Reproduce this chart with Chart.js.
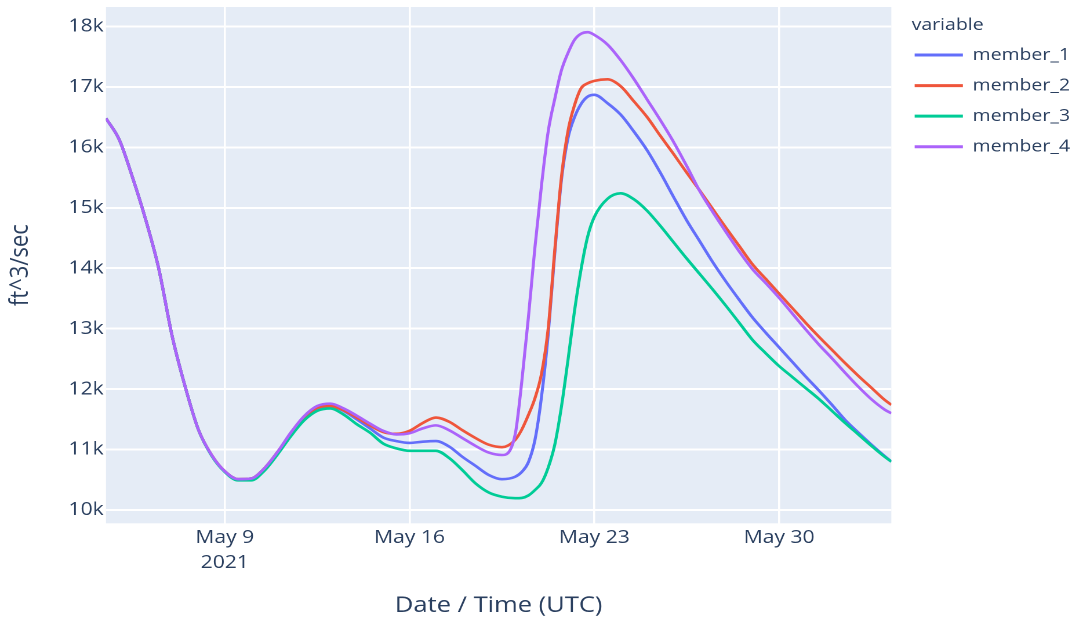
<!DOCTYPE html>
<html><head><meta charset="utf-8">
<script src="https://cdn.jsdelivr.net/npm/chart.js@4.4.1/dist/chart.umd.min.js"></script>
<style>
html,body{margin:0;padding:0;background:#fff;overflow:hidden;width:1083px;height:620px}
#wrap{position:absolute;left:0;top:0;width:934px;height:620px;transform:scaleX(1.15953);transform-origin:0 0}
</style></head><body>
<div id="wrap"><canvas id="c"></canvas></div>
<script>
// ---- data ----
const times = [
'2021-05-04T12:00Z','2021-05-05T00:00Z','2021-05-05T12:00Z','2021-05-06T00:00Z','2021-05-06T12:00Z','2021-05-07T00:00Z','2021-05-07T12:00Z','2021-05-08T00:00Z','2021-05-08T12:00Z','2021-05-09T00:00Z',
'2021-05-09T12:00Z','2021-05-10T00:00Z','2021-05-10T12:00Z','2021-05-11T00:00Z','2021-05-11T12:00Z','2021-05-12T00:00Z','2021-05-12T12:00Z','2021-05-13T00:00Z','2021-05-13T12:00Z','2021-05-14T00:00Z',
'2021-05-14T12:00Z','2021-05-15T00:00Z','2021-05-15T12:00Z','2021-05-16T00:00Z','2021-05-16T12:00Z','2021-05-17T00:00Z','2021-05-17T12:00Z','2021-05-18T00:00Z','2021-05-18T12:00Z','2021-05-19T00:00Z',
'2021-05-19T12:00Z','2021-05-20T00:00Z',
'2021-05-20T06:00Z','2021-05-20T12:00Z','2021-05-20T18:00Z','2021-05-21T00:00Z','2021-05-21T06:00Z','2021-05-21T12:00Z','2021-05-21T18:00Z','2021-05-22T00:00Z','2021-05-22T06:00Z','2021-05-22T12:00Z','2021-05-22T18:00Z','2021-05-23T00:00Z',
'2021-05-23T12:00Z','2021-05-24T00:00Z','2021-05-24T12:00Z','2021-05-25T00:00Z','2021-05-25T12:00Z','2021-05-26T00:00Z','2021-05-26T12:00Z','2021-05-27T00:00Z','2021-05-27T12:00Z','2021-05-28T00:00Z',
'2021-05-28T12:00Z','2021-05-29T00:00Z','2021-05-29T12:00Z','2021-05-30T00:00Z','2021-05-30T12:00Z','2021-05-31T00:00Z','2021-05-31T12:00Z','2021-06-01T00:00Z','2021-06-01T12:00Z','2021-06-02T00:00Z',
'2021-06-02T12:00Z','2021-06-03T00:00Z','2021-06-03T06:00Z'
];
const member_1 = [
16480,16130,15510,14810,13990,12890,12040,11330,10910,10640,
10510,10520,10690,10960,11260,11520,11680,11720,11640,11500,
11350,11200,11140,11110,11130,11140,11050,10880,10730,10580,
10510,10550,
10630,10790,11160,11880,12900,14250,15450,16150,16500,16720,16840,16870,
16730,16540,16260,15950,15580,15180,14790,14440,14090,13770,
13470,13180,12930,12690,12450,12210,11980,11740,11490,11280,
11080,10890,10800
];
const member_2 = [
16480,16130,15510,14810,13990,12890,12040,11330,10910,10640,
10510,10520,10690,10960,11265,11525,11690,11720,11650,11530,
11400,11290,11260,11310,11440,11530,11460,11320,11190,11080,
11040,11160,
11330,11570,11850,12260,13000,14300,15500,16270,16700,16980,17060,17100,
17125,17010,16760,16500,16190,15890,15580,15280,14970,14660,
14360,14060,13820,13580,13340,13100,12870,12650,12430,12220,
12020,11820,11740
];
const member_3 = [
16480,16130,15510,14810,13990,12890,12040,11330,10900,10630,
10490,10490,10650,10920,11220,11480,11640,11680,11580,11420,
11280,11100,11020,10980,10980,10980,10860,10660,10440,10290,
10220,10195,
10200,10240,10330,10450,10700,11080,11700,12480,13300,13990,14530,14850,
15150,15240,15140,14950,14700,14430,14160,13900,13640,13370,
13090,12810,12590,12380,12200,12020,11840,11640,11440,11250,
11060,10880,10800
];
const member_4 = [
16480,16130,15510,14810,13990,12890,12040,11330,10910,10640,
10510,10520,10690,10960,11280,11550,11720,11760,11680,11560,
11430,11310,11250,11270,11350,11400,11320,11190,11060,10950,
10910,11250,
12120,13180,14350,15380,16260,16800,17270,17560,17780,17880,17905,17860,
17700,17440,17130,16790,16450,16090,15690,15270,14920,14590,
14270,13980,13750,13510,13250,12990,12740,12510,12270,12040,
11830,11660,11600
];
const seriesNames = ['member_1','member_2','member_3','member_4'];
const seriesValues = [member_1, member_2, member_3, member_4];
const seriesColors = ['#636efa','#EF553B','#00cc96','#ab63fa'];
const xTickDates = ['2021-05-09T00:00Z','2021-05-16T00:00Z','2021-05-23T00:00Z','2021-05-30T00:00Z'];
const xTickLabels = [['May 9','2021'],'May 16','May 23','May 30'];
const yTickValues = [10000,11000,12000,13000,14000,15000,16000,17000,18000];
const yTickLabels = ['10k','11k','12k','13k','14k','15k','16k','17k','18k'];
const yMin = 9780, yMax = 18322;
const xTitle = 'Date / Time (UTC)';
const yTitle = 'ft^3/sec';
const legendTitle = 'variable';

// ---- styling / layout ----
const INK = '#2a3f5f';
Chart.defaults.font.family = '"Open Sans", verdana, arial, sans-serif';
Chart.defaults.color = INK;

const xs = times.map(t => Date.parse(t));

const plotBg = {
  id: 'plotBg',
  beforeDraw(chart) {
    const {ctx, chartArea: a} = chart;
    ctx.save();
    ctx.fillStyle = '#E5ECF6';
    ctx.fillRect(a.left, a.top, a.right - a.left, a.bottom - a.top);
    ctx.restore();
  }
};
const legendShift = {
  id: 'legendShift',
  afterLayout(chart) {
    const lg = chart.legend;
    if (lg) { lg.left += 17.5; lg.right += 17.5; }
  }
};

new Chart(document.getElementById('c'), {
  type: 'line',
  data: {
    datasets: seriesNames.map((name, i) => ({
      label: name,
      data: seriesValues[i].map((v, j) => ({x: xs[j], y: v})),
      borderColor: seriesColors[i],
      backgroundColor: seriesColors[i],
      borderWidth: 2.6,
      pointRadius: 0,
      pointHoverRadius: 0,
      fill: false,
      cubicInterpolationMode: 'monotone',
      order: seriesNames.length - i
    }))
  },
  options: {
    animation: false,
    responsive: true,
    maintainAspectRatio: false,
    devicePixelRatio: 2,
    layout: {padding: {top: 7, bottom: 0, left: 0, right: 25.3}},
    scales: {
      x: {
        type: 'linear',
        min: xs[0],
        max: xs[xs.length - 1],
        afterBuildTicks(scale) { scale.ticks = xTickDates.map(d => ({value: Date.parse(d)})); },
        afterFit(scale) { scale.height = 96.7; scale.paddingLeft = 0; scale.paddingRight = 0; },
        grid: {color: '#ffffff', lineWidth: 1.8, drawTicks: false},
        border: {display: false},
        ticks: {
          autoSkip: false, maxRotation: 0, minRotation: 0, padding: 2, color: INK,
          font: {size: 18.2, lineHeight: '25.1px'},
          callback: (v, i) => xTickLabels[i]
        },
        title: {display: true, text: xTitle, color: INK, font: {size: 22}, padding: {top: 0, bottom: 1}}
      },
      y: {
        type: 'linear',
        min: yMin,
        max: yMax,
        afterBuildTicks(scale) { scale.ticks = yTickValues.map(v => ({value: v})); },
        afterFit(scale) { scale.width = 91.4; scale.paddingTop = 0; scale.paddingBottom = 0; },
        grid: {color: '#ffffff', lineWidth: 2, drawTicks: false},
        border: {display: false},
        ticks: {
          autoSkip: false, padding: 2, color: INK, font: {size: 18.2},
          callback: (v, i) => yTickLabels[i]
        },
        title: {display: true, text: yTitle, color: INK, font: {size: 22}, padding: {top: 4.7, bottom: 0}}
      }
    },
    plugins: {
      tooltip: {enabled: false},
      legend: {
        position: 'right',
        align: 'start',
        maxWidth: 140,
        title: {display: true, text: legendTitle, position: 'start', color: INK,
                font: {size: 16.8, lineHeight: 1.2}, padding: {top: 9.6, bottom: 7.24}},
        labels: {
          color: INK,
          font: {size: 16.8, lineHeight: '27.97px'},
          boxWidth: 41.6,
          boxHeight: 3,
          padding: 2.6,
          generateLabels(chart) {
            const items = Chart.defaults.plugins.legend.labels.generateLabels(chart);
            return items
              .sort((a, b) => a.datasetIndex - b.datasetIndex)
              .map(it => Object.assign({}, it, {text: [it.text], lineWidth: 0}));
          }
        }
      }
    }
  },
  plugins: [plotBg, legendShift]
});
</script>
</body></html>
